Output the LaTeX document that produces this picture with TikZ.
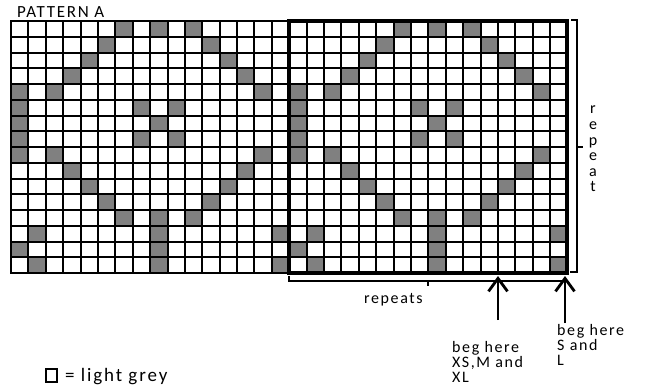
\documentclass[tikz,border=0pt]{standalone}
\usepackage{fontspec}
\setmainfont{Carlito}[LetterSpace=10.0]
\usetikzlibrary{arrows.meta}
\newcommand{\colx}[1]{round(11+(#1)*17.39)}
\newcommand{\rowy}[1]{round(21+(#1)*15.75)}

\begin{document}
\begin{tikzpicture}[x=1pt, y=-1pt,
  every node/.style={font=\fontsize{16}{15}\selectfont, inner sep=0pt},
  lbl/.style={anchor=base west, align=left},
  gcell/.style={fill=black!50},
  gline/.style={line width=2pt},
  brk/.style={line width=2pt},
  uparrow/.style={line width=2.8pt, -{Straight Barb[length=13pt, width=19pt, line width=2.8pt]}}]
	\useasboundingbox (0,0) rectangle (646,386);
	% grey cells, pattern repeated twice
	\foreach \k in {0,1}
	\foreach \r/\cs in {1/{6,8,10}, 2/{5,11}, 3/{4,12}, 4/{3,13}, 5/{0,2,14}, 6/{0,7,9}, 7/{0,8}, 8/{0,7,9},
	                    9/{0,2,14}, 10/{3,13}, 11/{4,12}, 12/{5,11}, 13/{6,8,10}, 14/{1,8,15}, 15/{0,8}, 16/{1,8,15}}
	\foreach \c in \cs
		\fill[gcell] ({\colx{\c+16*\k}},{\rowy{\r-1}}) rectangle ({\colx{\c+16*\k+1}},{\rowy{\r}});
	% grid
	\foreach \i in {0,...,32}
		\draw[gline] ({\colx{\i}},{\rowy{0}-1}) -- ({\colx{\i}},{\rowy{16}+1});
	\foreach \j in {0,...,16}
		\draw[gline] ({\colx{0}-1},{\rowy{\j}}) -- ({\colx{32}+1},{\rowy{\j}});
	\draw[line width=4pt] ({\colx{16}},{\rowy{0}}) rectangle ({\colx{32}},{\rowy{16}});
	\node[lbl, font=\fontsize{17}{17}\selectfont] (title) at (17,17) {PATTERN A};
	% repeat brackets
	\draw[brk] (571,20) -- (577,20) -- (577,272) -- (570,272);
	\draw[brk] (577,147) -- (583,147);
	\node[align=center, font=\fontsize{16}{15.6}\selectfont] (vrep) at (593,149) {r\\e\\p\\e\\a\\t};
	\draw[brk] (289,276) -- (289,281) -- (567,281);
	\draw[brk] (428,281) -- (428,286);
	\node[lbl] (hrep) at (364,303) {repeats};
	% start markers
	\coordinate (xsTail) at (498,320);
	\coordinate (xsTip) at (498,276);
	\coordinate (sTail) at (565,323);
	\coordinate (sTip) at (565,276);
	\draw[uparrow] (xsTail) -- (xsTip);
	\draw[uparrow] (sTail) -- (sTip);
	\node[lbl] (xsText) at (452,382) {beg here\\XS,M and\\XL};
	\node[lbl] (sText) at (557,365) {beg here\\S and\\L};
	% key
	\node[draw, line width=1.5pt, minimum width=11pt, minimum height=13pt] (keybox) at (51.5,375.5) {};
	\node[lbl, font=\fontsize{19}{19}\selectfont] (keytext) at (65,381) {= light grey};
\end{tikzpicture}
\end{document}
